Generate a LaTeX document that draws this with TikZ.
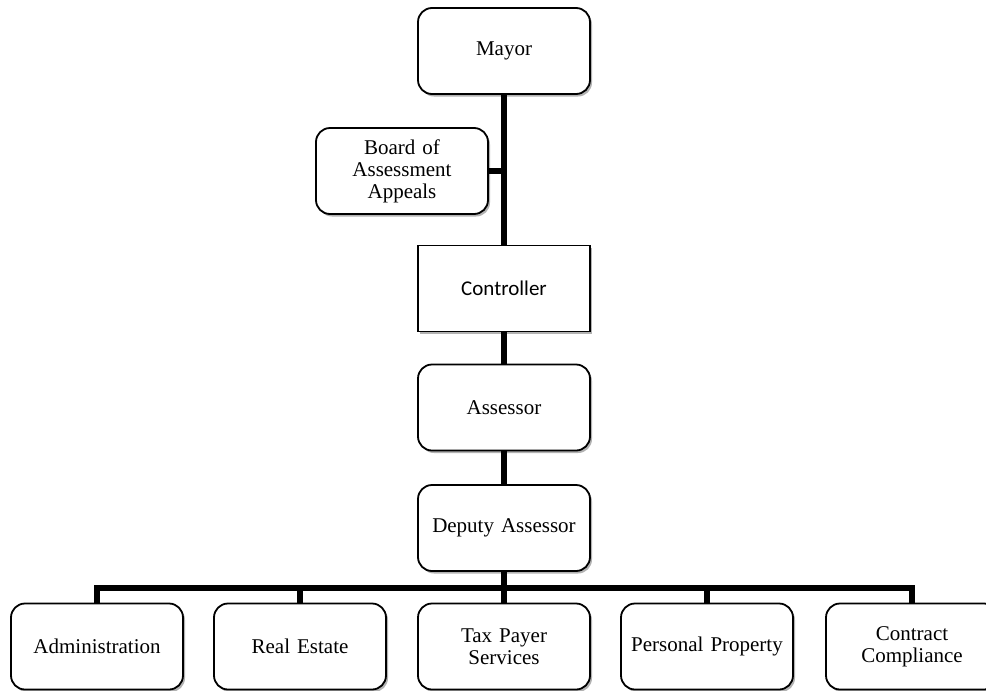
\documentclass[tikz,border=0pt]{standalone}
\usepackage{fontspec}
\setmainfont{Liberation Serif}
\newfontfamily\calib{Carlito}
\usetikzlibrary{shadows}
\begin{document}
\begin{tikzpicture}[x=1pt,y=-1pt,
  box/.style={draw=black, line width=1.8pt, fill=white, rounded corners=14pt,
    minimum width=172pt, minimum height=86pt, text width=160pt, align=center,
    font=\fontsize{21}{22}\selectfont, inner sep=0pt,
    drop shadow={shadow xshift=2pt, shadow yshift=-2.5pt, opacity=0.3, fill=black}},
  sqbox/.style={box, rounded corners=0pt, font=\calib\fontsize{21}{22}\selectfont},
  conn/.style={line width=5.5pt, line cap=butt}
]
\useasboundingbox (0,0) rectangle (986,691);
\clip (0,0) rectangle (986,691);
\node[box] (mayor) at (504,51) {Mayor};
\node[box] (board) at (402,171) {Board of\\Assessment\\Appeals};
\node[sqbox] (ctrl) at (504,288.5) {Controller};
\node[box] (ass) at (504,407.5) {Assessor};
\node[box] (dep) at (504,528) {Deputy Assessor};
\node[box] (adm) at (97,646.5) {Administration};
\node[box] (re) at (300,646.5) {Real Estate};
\node[box] (tax) at (504,646.5) {Tax Payer\\Services};
\node[box] (pp) at (707,646.5) {Personal Property};
\node[box] (cc) at (912,646.5) {Contract\\Compliance};

\coordinate (busl) at (97,588);
\coordinate (busr) at (912,588);
\coordinate (busm) at (504,588);

\draw[conn] (mayor.south) -- (ctrl.north);
\draw[conn] (board.east) -- (board.east -| mayor.south);
\draw[conn] (ctrl.south) -- (ass.north);
\draw[conn] (ass.south) -- (dep.north);
\draw[conn] (dep.south) -- (busm);
\draw[conn, line cap=rect] (busl) -- (busr);
\draw[conn] (busl) -- (adm.north);
\draw[conn] (re.north |- busl) -- (re.north);
\draw[conn] (busm) -- (tax.north);
\draw[conn] (pp.north |- busl) -- (pp.north);
\draw[conn] (busr) -- (cc.north);
\end{tikzpicture}
\end{document}
